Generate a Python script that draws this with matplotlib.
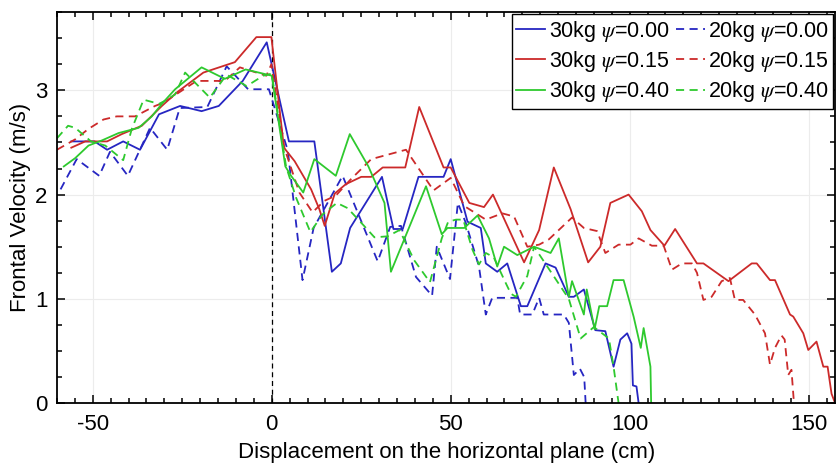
import matplotlib
matplotlib.use('Agg')
import matplotlib.pyplot as plt
from matplotlib.ticker import MultipleLocator

plt.rcParams['font.family'] = ['Liberation Sans', 'DejaVu Sans']
plt.rcParams['mathtext.fontset'] = 'stix'
plt.rcParams['axes.unicode_minus'] = False

# ==================== 数据：前沿速度 vs 水平位移 ====================
# 30kg, psi = 0.00
b30_x = [-56, -49.5, -46, -41.5, -36.8, -31.5, -25.6, -19.6, -14.8, -8.1,
         -1.4, 4.8, 11.9, 16.8, 19.3, 21.9, 30.8, 34.0, 36.6, 41.0,
         48.0, 50.0, 54.7, 58.4, 59.8, 63.0, 65.8, 69.6, 71.4, 76.5,
         79.3, 83.0, 84.4, 87.2, 90.4, 93.2, 95.5, 97.4, 99.3, 100.5,
         100.9, 101.9, 102.5]
b30_y = [2.51, 2.51, 2.43, 2.51, 2.43, 2.77, 2.85, 2.80, 2.85, 3.09,
         3.46, 2.51, 2.51, 1.26, 1.34, 1.68, 2.17, 1.67, 1.67, 2.17,
         2.17, 2.34, 1.74, 1.68, 1.34, 1.26, 1.34, 0.93, 0.93, 1.34,
         1.30, 1.02, 1.02, 1.09, 0.70, 0.69, 0.35, 0.61, 0.67, 0.57,
         0.17, 0.16, 0.0]

# 20kg, psi = 0.00
b20_x = [-59.0, -54.5, -48.2, -45.2, -40.2, -34.0, -29.2, -25.7, -18.0, -12.6,
         -6.6, -0.8, 4.5, 8.6, 11.7, 19.8, 29.6, 33.1, 36.1, 40.3,
         44.8, 46.1, 49.8, 52.0, 54.2, 57.9, 59.8, 61.6, 68.6, 69.4,
         72.8, 74.7, 76.0, 81.6, 83.0, 84.4, 86.1, 87.3, 87.7]
b20_y = [2.05, 2.34, 2.18, 2.41, 2.18, 2.64, 2.43, 2.83, 2.84, 3.23,
         3.01, 3.01, 2.42, 1.18, 1.68, 2.18, 1.36, 1.69, 1.70, 1.21,
         1.03, 1.50, 1.19, 1.92, 1.73, 1.31, 0.85, 1.01, 1.01, 0.85,
         0.85, 1.01, 0.85, 0.85, 0.77, 0.27, 0.33, 0.25, 0.0]

# 30kg, psi = 0.15
r30_x = [-56.0, -52.1, -46.0, -41.9, -36.3, -30.7, -26.5, -19.1, -14.7, -10.3,
         -4.3, -0.1, 3.4, 6.4, 11.0, 13.3, 14.8, 17.6, 20.7, 25.0,
         27.8, 31.0, 37.3, 41.2, 48.0, 50.0, 55.2, 59.3, 61.8, 70.5,
         74.7, 78.8, 83.5, 88.4, 91.8, 94.6, 99.7, 103.4, 105.8, 109.7,
         112.7, 118.8, 120.6, 127.6, 134.1, 135.5, 139.2, 140.6, 144.8, 145.7,
         148.5, 149.9, 152.2, 154.1, 155.3, 156.4, 157.4]
r30_y = [2.45, 2.51, 2.51, 2.58, 2.66, 2.85, 2.98, 3.17, 3.22, 3.27,
         3.51, 3.51, 2.45, 2.32, 2.05, 1.86, 1.70, 2.01, 2.10, 2.17,
         2.17, 2.26, 2.26, 2.84, 2.26, 2.26, 1.92, 1.88, 2.00, 1.35,
         1.66, 2.26, 1.86, 1.35, 1.50, 1.92, 2.00, 1.84, 1.66, 1.51,
         1.67, 1.34, 1.34, 1.17, 1.34, 1.34, 1.18, 1.18, 0.85, 0.83,
         0.67, 0.51, 0.59, 0.35, 0.35, 0.09, 0.0]

# 20kg, psi = 0.15
r20_x = [-60.0, -54.9, -51.2, -47.0, -43.3, -38.2, -32.6, -30.3, -21.0, -13.1,
         -8.9, -1.5, -0.1, 3.5, 7.7, 11.4, 14.7, 17.9, 21.9, 27.8,
         37.5, 45.2, 50.0, 53.8, 59.8, 64.4, 67.7, 71.4, 74.7, 77.4,
         83.9, 87.2, 90.9, 93.2, 96.9, 100.2, 102.5, 106.2, 109.5, 111.8,
         114.6, 117.4, 118.8, 120.6, 122.9, 125.7, 128.0, 129.4, 131.7, 135.0,
         137.8, 139.2, 140.6, 142.4, 143.3, 144.3, 145.2, 145.9]
r20_y = [2.43, 2.53, 2.63, 2.72, 2.75, 2.75, 2.85, 2.88, 3.09, 3.09,
         3.22, 3.14, 3.25, 2.45, 2.02, 1.83, 1.94, 1.99, 2.14, 2.34,
         2.43, 2.04, 2.16, 1.89, 1.76, 1.82, 1.79, 1.50, 1.52, 1.57,
         1.78, 1.68, 1.65, 1.44, 1.52, 1.52, 1.58, 1.51, 1.51, 1.28,
         1.34, 1.34, 1.25, 0.99, 1.02, 1.17, 1.20, 0.99, 0.99, 0.85,
         0.67, 0.37, 0.53, 0.65, 0.61, 0.27, 0.32, 0.0]

# 30kg, psi = 0.40
g30_x = [-58.1, -54.9, -51.2, -47.4, -42.8, -37.2, -33.5, -30.7, -27.0, -19.6,
         -13.1, -7.3, -1.2, 0.0, 3.8, 5.4, 8.8, 11.9, 17.9, 21.8,
         27.0, 31.5, 33.3, 43.1, 47.5, 49.1, 53.8, 57.5, 60.7, 63.0,
         64.9, 68.6, 73.3, 77.9, 80.2, 83.0, 83.9, 87.2, 88.0, 90.2,
         91.5, 93.7, 95.5, 98.3, 101.1, 103.1, 103.9, 105.8, 106.0]
g30_y = [2.27, 2.35, 2.47, 2.52, 2.59, 2.64, 2.75, 2.87, 3.01, 3.22,
         3.11, 3.20, 3.15, 3.14, 2.27, 2.18, 2.02, 2.34, 2.18, 2.58,
         2.27, 1.92, 1.26, 2.08, 1.62, 1.68, 1.68, 1.80, 1.58, 1.31,
         1.50, 1.42, 1.50, 1.44, 1.58, 1.02, 1.17, 0.85, 1.09, 0.71,
         0.93, 0.93, 1.18, 1.18, 0.83, 0.53, 0.72, 0.35, 0.0]

# 20kg, psi = 0.40
g20_x = [-60.0, -56.9, -54.9, -50.5, -46.5, -41.5, -39.1, -35.8, -31.5, -29.8,
         -27.0, -24.2, -17.3, -12.6, -7.0, -2.4, 0.0, 4.0, 6.8, 10.8,
         14.2, 18.2, 21.2, 25.8, 28.7, 32.4, 35.7, 39.8, 44.2, 47.5,
         49.3, 51.5, 53.5, 56.1, 57.9, 59.8, 62.0, 65.4, 66.8, 68.2,
         71.4, 73.3, 83.0, 86.3, 90.0, 94.2, 95.5, 96.9]
g20_y = [2.54, 2.66, 2.64, 2.51, 2.47, 2.33, 2.63, 2.91, 2.87, 2.90,
         2.96, 3.17, 2.93, 3.15, 3.04, 3.14, 3.16, 2.27, 1.97, 1.64,
         1.81, 1.92, 1.87, 1.70, 1.59, 1.60, 1.66, 1.37, 1.16, 1.58,
         1.74, 1.76, 1.76, 1.47, 1.33, 1.44, 1.40, 1.15, 1.05, 1.02,
         1.22, 1.50, 1.00, 0.62, 0.73, 0.62, 0.35, 0.0]

# ==================== 绘图 ====================
blue, red, green = '#2626c2', '#cc2a2a', '#2ec92e'
dash = (0, (4.5, 3))

fig = plt.figure(figsize=(8.38, 4.65), dpi=100)
ax = fig.add_axes([0.068, 0.133, 0.929, 0.841])

ax.grid(True, which='major', color='#ececec', linewidth=0.8)
ax.axvline(0, color='black', linestyle=(0, (4, 3)), linewidth=0.9)

lw = 1.3
ax.plot(b30_x, b30_y, color=blue, lw=lw, label=r'30kg $\psi$=0.00')
ax.plot(b20_x, b20_y, color=blue, lw=lw, ls=dash, label=r'20kg $\psi$=0.00')
ax.plot(r30_x, r30_y, color=red, lw=lw, label=r'30kg $\psi$=0.15')
ax.plot(r20_x, r20_y, color=red, lw=lw, ls=dash, label=r'20kg $\psi$=0.15')
ax.plot(g30_x, g30_y, color=green, lw=lw, label=r'30kg $\psi$=0.40')
ax.plot(g20_x, g20_y, color=green, lw=lw, ls=dash, label=r'20kg $\psi$=0.40')

ax.set_xlim(-60, 157.5)
ax.set_ylim(0, 3.75)
ax.set_xticks([-50, 0, 50, 100, 150])
ax.set_yticks([0, 1, 2, 3])
ax.xaxis.set_minor_locator(MultipleLocator(5))
ax.yaxis.set_minor_locator(MultipleLocator(0.25))
ax.tick_params(which='both', direction='in', top=True, right=True,
               labelsize=16, width=1.1)
ax.tick_params(which='major', length=6)
ax.tick_params(which='minor', length=3.5)
ax.tick_params(axis='x', pad=8)
ax.tick_params(axis='y', pad=7)
for s in ax.spines.values():
    s.set_linewidth(1.3)

ax.set_xlabel('Displacement on the horizontal plane (cm)', fontsize=16, labelpad=5)
ax.set_ylabel('Frontal Velocity (m/s)', fontsize=16, labelpad=3)

# 图例：两列，实线 30kg，虚线 20kg
handles, labels = ax.get_legend_handles_labels()
order = [0, 2, 4, 1, 3, 5]
leg = ax.legend([handles[i] for i in order], [labels[i] for i in order],
                ncol=2, loc='upper right', fontsize=15.5, frameon=True,
                fancybox=False, edgecolor='black', framealpha=1,
                borderaxespad=0.1, borderpad=0.2, labelspacing=0.25,
                handlelength=1.35, handletextpad=0.15, columnspacing=0.3)
leg.get_frame().set_linewidth(1.0)

plt.savefig('out.png', dpi=100)
